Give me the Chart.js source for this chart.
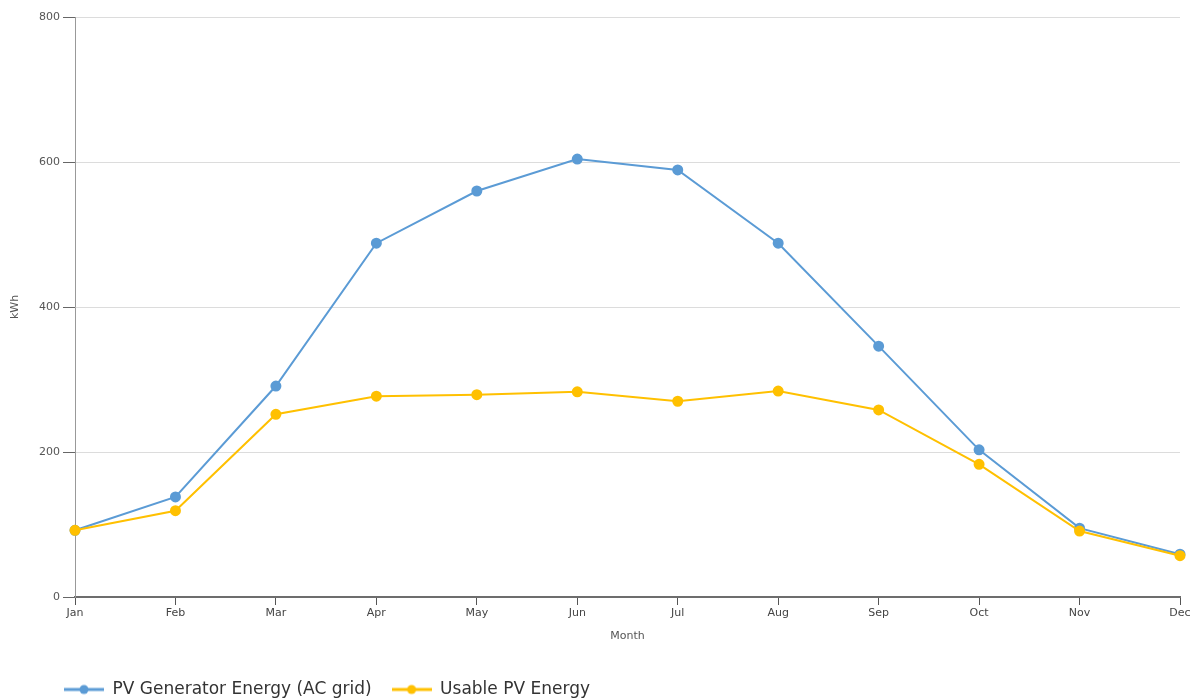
<!DOCTYPE html>
<html>
<head>
<meta charset="utf-8">
<script src="https://cdn.jsdelivr.net/npm/chart.js@4/dist/chart.umd.min.js"></script>
<style>
html,body{margin:0;padding:0;background:#fff;}
#wrap{width:1197px;height:699px;position:relative;}
</style>
</head>
<body>
<div id="wrap"><canvas id="c" width="1197" height="699"></canvas></div>
<script>
const months = ['Jan','Feb','Mar','Apr','May','Jun','Jul','Aug','Sep','Oct','Nov','Dec'];
const pvGenerator = [92, 138, 291, 488, 560, 604, 589, 488, 346, 203, 95, 59];
const usablePV = [92, 119, 252, 277, 279, 283, 270, 284, 258, 183, 91, 57];
const seriesNames = ['PV Generator Energy (AC grid)', 'Usable PV Energy'];
const seriesColors = ['#5b9bd5', '#ffc000'];
const yTicks = [0, 200, 400, 600, 800];

function legendIcon(color){
  const c = document.createElement('canvas');
  c.width = 40; c.height = 12;
  const x = c.getContext('2d');
  x.strokeStyle = color; x.lineWidth = 3;
  x.beginPath(); x.moveTo(0,6); x.lineTo(40,6); x.stroke();
  x.fillStyle = color;
  x.beginPath(); x.arc(20,6,4.5,0,Math.PI*2); x.fill();
  return c;
}
const icons = seriesColors.map(legendIcon);

const font = "'DejaVu Sans', Verdana, sans-serif";
Chart.defaults.font.family = font;
Chart.defaults.color = '#555';

const legendShift = {
  id: 'legendShift',
  afterLayout(chart){
    if (chart.legend){ chart.legend.left += 44; chart.legend.top += 9; }
  }
};

new Chart(document.getElementById('c'), {
  type: 'line',
  plugins: [legendShift],
  data: {
    labels: months,
    datasets: [pvGenerator, usablePV].map((d,i)=>({
      label: seriesNames[i],
      data: d,
      borderColor: seriesColors[i],
      backgroundColor: seriesColors[i],
      borderWidth: 2,
      pointRadius: 4.5,
      pointHoverRadius: 5,
      tension: 0,
      fill: false
    })).reverse()
  },
  options: {
    responsive: false,
    animation: false,
    layout: {padding: {left: 0, right: 17, top: 17, bottom: 0}},
    plugins: {
      tooltip: {enabled: false},
      legend: {
        position: 'bottom',
        align: 'start',
        reverse: true,
        labels: {
          usePointStyle: true,
          pointStyleWidth: 40,
          font: {size: 17, family: font},
          color: '#333',
          padding: 20,
          generateLabels: (chart) => chart.data.datasets.map((ds, i) => ({
            text: ds.label,
            fillStyle: ds.borderColor,
            strokeStyle: ds.borderColor,
            pointStyle: icons[seriesNames.indexOf(ds.label)],
            datasetIndex: i,
            lineWidth: 0,
            fontColor: '#333'
          }))
        }
      }
    },
    scales: {
      x: {
        offset: false,
        grid: {drawOnChartArea: false, drawTicks: true, tickLength: 8, tickColor: '#555'},
        border: {color: '#6d6d6d', width: 2},
        ticks: {font: {size: 11}, color: '#444', padding: 2, maxRotation: 0, autoSkip: false},
        title: {display: true, text: 'Month', font: {size: 11}, color: '#555', padding: {top: 0, bottom: 9}},
        afterFit: (s) => { s.height = 55; }
      },
      y: {
        min: 0, max: 800,
        afterBuildTicks: (s) => { s.ticks = yTicks.map(v => ({value: v})); },
        grid: {color: '#dcdcdc', tickLength: 12, tickColor: '#666', lineWidth: 1},
        border: {color: '#999', width: 1},
        ticks: {font: {size: 11}, color: '#555', padding: 3},
        title: {display: true, text: 'kWh', font: {size: 11}, color: '#555', padding: {top: 9, bottom: 0}},
        afterFit: (s) => { s.width = 75; }
      }
    }
  }
});
</script>
</body>
</html>
